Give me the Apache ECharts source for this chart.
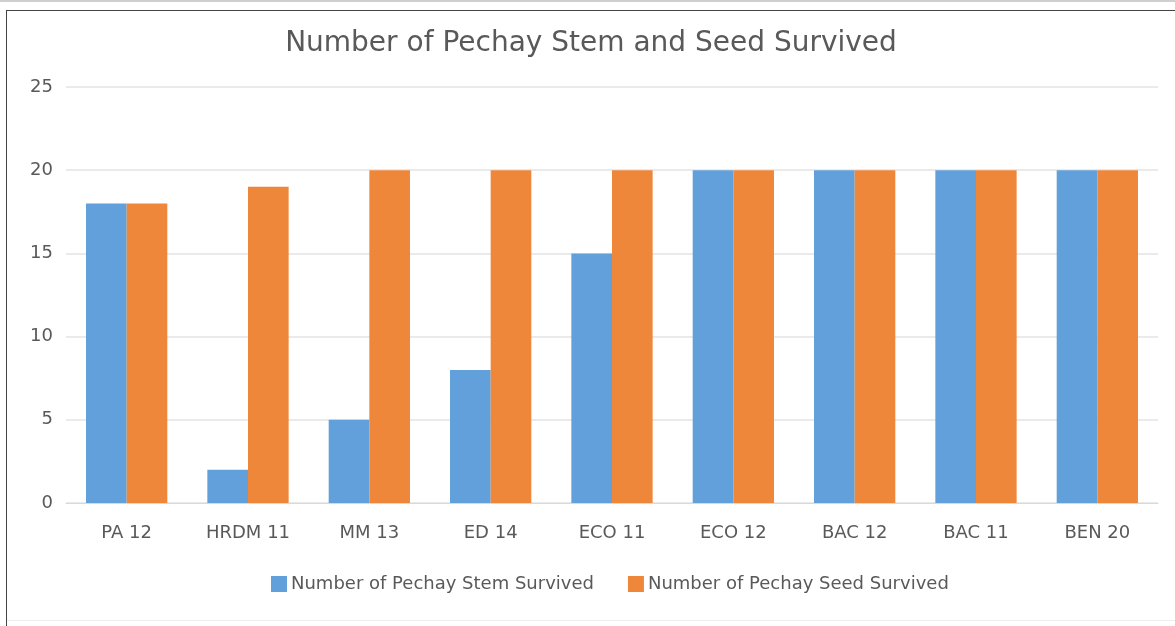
<!DOCTYPE html>
<html>
<head>
<meta charset="utf-8">
<script src="https://cdn.jsdelivr.net/npm/echarts@6/dist/echarts.min.js"></script>
<style>
  body { margin: 0; background: #fff; }
  .page { position: relative; width: 1175px; height: 626px; overflow: hidden; background: #fff; }
  .strip { position: absolute; left: 0; top: 0; width: 1175px; height: 2px; background: #cfcfcf; }
  .frame { position: absolute; left: 6px; top: 10px; width: 1169px; height: 616px; border-top: 1px solid #444; border-left: 1px solid #444; box-sizing: border-box; }
  #chart { position: absolute; left: 0; top: 0; width: 1168px; height: 615px; }
  .foot { position: absolute; left: 7px; top: 620px; width: 1168px; height: 1px; background: #eee; }
</style>
</head>
<body>
<div class="page">
  <div class="strip"></div>
  <div class="frame"><div id="chart"></div></div>
  <div class="foot"></div>
</div>
<script>
const categories = ['PA 12', 'HRDM 11', 'MM 13', 'ED 14', 'ECO 11', 'ECO 12', 'BAC 12', 'BAC 11', 'BEN 20']
const stemSurvived = [18, 2, 5, 8, 15, 20, 20, 20, 20]
const seedSurvived = [18, 19, 20, 20, 20, 20, 20, 20, 20]

const font = 'DejaVu Sans'
const myChart = echarts.init(document.getElementById('chart'))
myChart.setOption({
  animation: false,
  title: {
    text: 'Number of Pechay Stem and Seed Survived',
    left: 'center',
    top: 14,
    textStyle: { fontFamily: font, fontSize: 28, fontWeight: 'normal', color: '#595959' }
  },
  legend: {
    bottom: 28,
    left: 259,
    icon: 'rect',
    itemWidth: 16,
    itemHeight: 16,
    itemGap: 34,
    textStyle: { fontFamily: font, fontSize: 18, color: '#595959', padding: [0, 0, 0, -1] }
  },
  grid: { left: 59, right: 17, top: 76, bottom: 123 },
  xAxis: {
    type: 'category',
    data: categories,
    axisLine: { lineStyle: { color: '#d9d9d9' } },
    axisTick: { show: false },
    axisLabel: { fontFamily: font, fontSize: 18, color: '#595959', margin: 21 }
  },
  yAxis: {
    type: 'value',
    min: 0,
    max: 25,
    interval: 5,
    axisLine: { show: false },
    axisTick: { show: false },
    axisLabel: { fontFamily: font, fontSize: 18, color: '#595959', margin: 13 },
    splitLine: { lineStyle: { color: '#e3e3e3', width: 1.5 } }
  },
  series: [
    {
      name: 'Number of Pechay Stem Survived',
      type: 'bar',
      data: stemSurvived,
      barGap: '0%',
      barCategoryGap: '33%',
      itemStyle: { color: '#61a0da' }
    },
    {
      name: 'Number of Pechay Seed Survived',
      type: 'bar',
      data: seedSurvived,
      itemStyle: { color: '#ef873a' }
    }
  ]
})
</script>
</body>
</html>
